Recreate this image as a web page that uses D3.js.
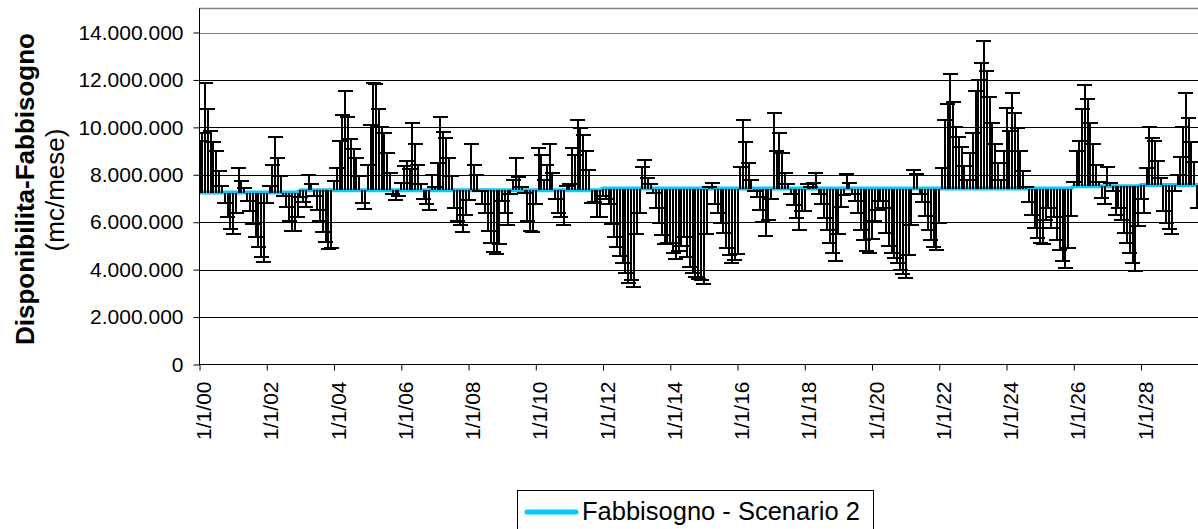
<!DOCTYPE html>
<html>
<head>
<meta charset="utf-8">
<script src="https://cdn.jsdelivr.net/npm/d3@7"></script>
<style>
  html, body { margin: 0; padding: 0; background: #fff; }
  svg { display: block; font-family: "Liberation Sans", Arial, sans-serif; }
</style>
</head>
<body>
<svg id="chart" width="1198" height="529"></svg>
<script>
// Monthly availability (millions of m3 per month), one value per month from January 2000
const disponibilita2000_2009 = [
  9.44, 9.78, 11.89, 10.79, 9.86, 9.4, 9.02, 8.17, 7.53, 6.82, 6.23, 5.73,
  5.50, 6.40, 8.29, 7.75, 7.45, 6.9, 6.49, 5.92, 5.39, 4.97, 4.54, 4.31,
  6.82, 7.53, 8.43, 9.61, 8.70, 7.95, 7.1, 6.66, 6.05, 5.64, 5.62, 6.23,
  7.08, 6.87, 6.66, 8.0, 7.6, 7.1, 6.5, 6.05, 5.59, 5.18, 4.88, 4.9,
  7.75, 8.3, 9.44, 10.52, 11.55, 10.45, 9.53, 9.1, 8.70, 7.95, 6.82, 6.57,
  8.43, 10.12, 11.89, 11.83, 10.79, 10.0, 9.78, 8.93, 8.09, 7.2, 6.94, 7.1,
  7.67, 8.37, 8.6, 8.26, 10.2, 9.29, 8.43, 7.6, 6.99, 6.77, 6.51, 8.0,
  7.5, 8.51, 10.45, 9.8, 9.54, 8.7, 7.95, 6.58, 6.05, 5.9, 5.57, 6.3,
  6.94, 9.29, 8.43, 8.0, 7.3, 6.77, 6.40, 5.64, 5.14, 4.76, 4.64, 5.07,
  6.9, 6.4, 5.9, 7.2, 7.8, 8.7, 7.92, 7.5, 7.22, 6.05, 5.64, 5.6
];
const disponibilita2010_2019 = [
  6.77, 9.12, 8.84, 7.8, 8.43, 9.29, 8.09, 7.0, 6.4, 6.23, 5.9, 7.53,
  7.6, 9.12, 8.84, 10.31, 9.96, 9.68, 9.02, 8.2, 6.82, 6.84, 6.23, 6.2,
  7.1, 7.0, 6.77, 5.93, 5.39, 4.97, 4.57, 4.26, 3.87, 3.45, 3.56, 3.28,
  5.5, 6.4, 8.34, 8.63, 7.85, 7.6, 7.22, 6.58, 5.98, 5.46, 5.07, 5.14,
  5.11, 4.71, 4.47, 4.8, 5.0, 5.39, 4.54, 4.12, 3.87, 3.7, 3.6, 3.56,
  3.39, 5.5, 7.5, 7.67, 6.77, 6.4, 5.95, 5.53, 4.9, 4.61, 4.26, 4.4,
  4.66, 8.34, 10.31, 9.37, 8.51, 7.78, 7.3, 7.08, 6.51, 6.02, 5.42, 6.09,
  6.97, 10.62, 9.02, 9.78, 8.93, 8.09, 7.6, 7.2, 6.73, 6.16, 5.67, 6.49,
  6.49, 7.61, 7.5, 7.67, 8.09, 7.2, 6.77, 6.16, 5.67, 5.14, 4.69, 4.38,
  5.5, 6.66, 7.15, 8.02, 7.67, 7.2, 6.9, 6.37, 5.67, 5.25, 4.80, 4.71
];
const disponibilita2020_2029 = [
  5.3, 6.05, 6.51, 6.9, 6.6, 5.56, 5.0, 4.71, 4.5, 4.29, 3.98, 3.8,
  3.63, 4.6, 5.88, 8.2, 8.03, 7.2, 6.87, 6.26, 5.67, 5.25, 4.97, 4.83,
  5.98, 8.27, 10.31, 10.97, 12.23, 11.05, 10.03, 9.6, 9.19, 8.37, 7.78, 8.93,
  9.78, 11.55, 12.0, 12.73, 13.66, 12.39, 11.3, 10.2, 9.3, 8.51, 7.78, 9.0,
  10.81, 9.86, 11.47, 10.62, 9.96, 9.02, 8.17, 7.5, 6.87, 6.3, 5.74, 5.32,
  5.14, 5.08, 6.09, 6.6, 5.74, 6.2, 5.25, 4.83, 4.38, 4.05, 4.9, 6.26,
  7.7, 9.02, 9.44, 10.79, 11.79, 11.2, 10.2, 9.3, 8.41, 7.7, 7.01, 6.77,
  8.34, 7.67, 7.3, 6.3, 6.6, 6.09, 5.53, 5.14, 4.69, 4.29, 3.95, 5.84,
  7.0, 6.4, 8.27, 10.03, 9.54, 9.44, 8.6, 7.85, 6.49, 5.98, 5.71, 5.49,
  7.3, 8.0, 8.77, 10.03, 11.47, 10.38, 9.4, 8.55, 6.58
];

// Yearly demand, Scenario 2 (millions of m3 per month), 2000-2029
const fabbisognoAnnuo = [
  7.25, 7.25, 7.25, 7.35, 7.35, 7.35, 7.35, 7.35, 7.35, 7.35,
  7.35, 7.35, 7.42, 7.42, 7.42, 7.42, 7.42, 7.42, 7.42, 7.42,
  7.42, 7.42, 7.42, 7.42, 7.42, 7.42, 7.52, 7.52, 7.57, 7.57
];

const yTicks = [0, 2e6, 4e6, 6e6, 8e6, 10e6, 12e6, 14e6];
const xTickYears = [2000, 2002, 2004, 2006, 2008, 2010, 2012, 2014,
                    2016, 2018, 2020, 2022, 2024, 2026, 2028];
const serieLabel = "Fabbisogno - Scenario 2";
const MILIONE = 1e6;

const disponibilita = [].concat(disponibilita2000_2009, disponibilita2010_2019, disponibilita2020_2029);
const monthDate = i => new Date(Date.UTC(2000, i, 1));

const demand = fabbisognoAnnuo.flatMap((v, yi) =>
  d3.range(12).map(mi => ({ date: monthDate(yi * 12 + mi), value: v * MILIONE })));
const bars = disponibilita.map((v, i) => ({
  date: monthDate(i),
  base: fabbisognoAnnuo[Math.floor(i / 12)] * MILIONE,
  value: v * MILIONE
}));

const svg = d3.select("#chart");
const plot = { left: 199, top: 8.5, right: 1230, bottom: 364.5 };

const x = d3.scaleUtc()
  .domain([Date.UTC(2000, 0, 1), Date.UTC(2028, 0, 1)])
  .range([199.5, 1141]);
const y = d3.scaleLinear()
  .domain([0, 15e6])
  .range([364.5, 8.8]);

const itLocale = d3.formatLocale({ decimal: ",", thousands: ".", grouping: [3], currency: ["€", ""] });
const fmt = itLocale.format(",.0f");

svg.append("defs").append("clipPath").attr("id", "plotClip")
  .append("rect")
  .attr("x", plot.left).attr("y", plot.top - 2)
  .attr("width", plot.right - plot.left).attr("height", plot.bottom - plot.top + 2);

// Horizontal gridlines
svg.append("g")
  .selectAll("line")
  .data(yTicks.filter(t => t > 0))
  .join("line")
  .attr("x1", plot.left).attr("x2", plot.right)
  .attr("y1", d => Math.round(y(d)) + 0.5)
  .attr("y2", d => Math.round(y(d)) + 0.5)
  .attr("stroke", d => d === 14e6 ? "#808080" : "#000")
  .attr("stroke-width", d => d === 14e6 ? 1.6 : 1)
  .attr("shape-rendering", "crispEdges");

// Plot area top border
svg.append("line")
  .attr("x1", plot.left).attr("x2", plot.right)
  .attr("y1", plot.top).attr("y2", plot.top)
  .attr("stroke", "#808080").attr("stroke-width", 1.6);

const body = svg.append("g").attr("clip-path", "url(#plotClip)");

// Demand line
body.append("path")
  .datum(demand)
  .attr("fill", "none")
  .attr("stroke", "#00CCFF")
  .attr("stroke-width", 4)
  .attr("stroke-linejoin", "round")
  .attr("d", d3.line().x(d => x(d.date)).y(d => y(d.value)));

// Availability shown as a bar from the demand to the monthly value, capped at its end
const eb = body.append("g").attr("stroke", "#000").attr("shape-rendering", "crispEdges");
eb.selectAll("line.stem")
  .data(bars)
  .join("line")
  .attr("class", "stem")
  .attr("x1", d => x(d.date)).attr("x2", d => x(d.date))
  .attr("y1", d => y(d.base)).attr("y2", d => y(d.value))
  .attr("stroke-width", 2);
eb.selectAll("line.cap")
  .data(bars)
  .join("line")
  .attr("class", "cap")
  .attr("x1", d => x(d.date) - 7.5).attr("x2", d => x(d.date) + 7.5)
  .attr("y1", d => y(d.value)).attr("y2", d => y(d.value))
  .attr("stroke-width", 2);

// Y axis
const yAxis = svg.append("g")
  .attr("transform", `translate(${plot.left + 0.5},0)`)
  .call(d3.axisLeft(y).tickValues(yTicks).tickFormat(fmt).tickSizeOuter(0).tickSize(6).tickPadding(10));
yAxis.select(".domain").attr("d", `M0,${plot.top}V${plot.bottom}`).attr("stroke", "#000");
yAxis.selectAll(".tick line").attr("stroke", "#000");
yAxis.selectAll(".tick text")
  .attr("font-size", 21).attr("fill", "#000")
  .attr("font-family", "Liberation Sans, Arial, sans-serif");

// X axis
const xAxis = svg.append("g")
  .attr("transform", `translate(0,${plot.bottom})`)
  .call(d3.axisBottom(x)
    .tickValues(xTickYears.map(yr => new Date(Date.UTC(yr, 0, 1))))
    .tickSize(6).tickSizeOuter(0)
    .tickFormat(d => "1/1/" + String(d.getUTCFullYear() % 100).padStart(2, "0")));
xAxis.select(".domain").attr("d", `M${plot.left},0H${plot.right}`).attr("stroke", "#000");
xAxis.selectAll(".tick line").attr("stroke", "#000");
xAxis.selectAll(".tick text")
  .attr("font-size", 21).attr("fill", "#000")
  .attr("font-family", "Liberation Sans, Arial, sans-serif")
  .attr("text-anchor", "end")
  .attr("dy", null).attr("y", null)
  .attr("transform", "translate(11,17) rotate(-90)");

// Axis titles
svg.append("text")
  .attr("transform", "translate(34,189) rotate(-90)")
  .attr("text-anchor", "middle")
  .attr("font-size", 26).attr("font-weight", "bold")
  .text("Disponibilita-Fabbisogno");
svg.append("text")
  .attr("transform", "translate(64,190) rotate(-90)")
  .attr("text-anchor", "middle")
  .attr("font-size", 26)
  .text("(mc/mese)");

// Legend
const lg = svg.append("g");
lg.append("rect")
  .attr("x", 517.5).attr("y", 490.5).attr("width", 356).attr("height", 60)
  .attr("fill", "#fff").attr("stroke", "#000").attr("stroke-width", 1);
lg.append("line")
  .attr("x1", 527).attr("x2", 576).attr("y1", 512).attr("y2", 512)
  .attr("stroke", "#00CCFF").attr("stroke-width", 5).attr("stroke-linecap", "round");
lg.append("text")
  .attr("x", 582).attr("y", 520)
  .attr("font-size", 25.5)
  .text(serieLabel);
</script>
</body>
</html>
